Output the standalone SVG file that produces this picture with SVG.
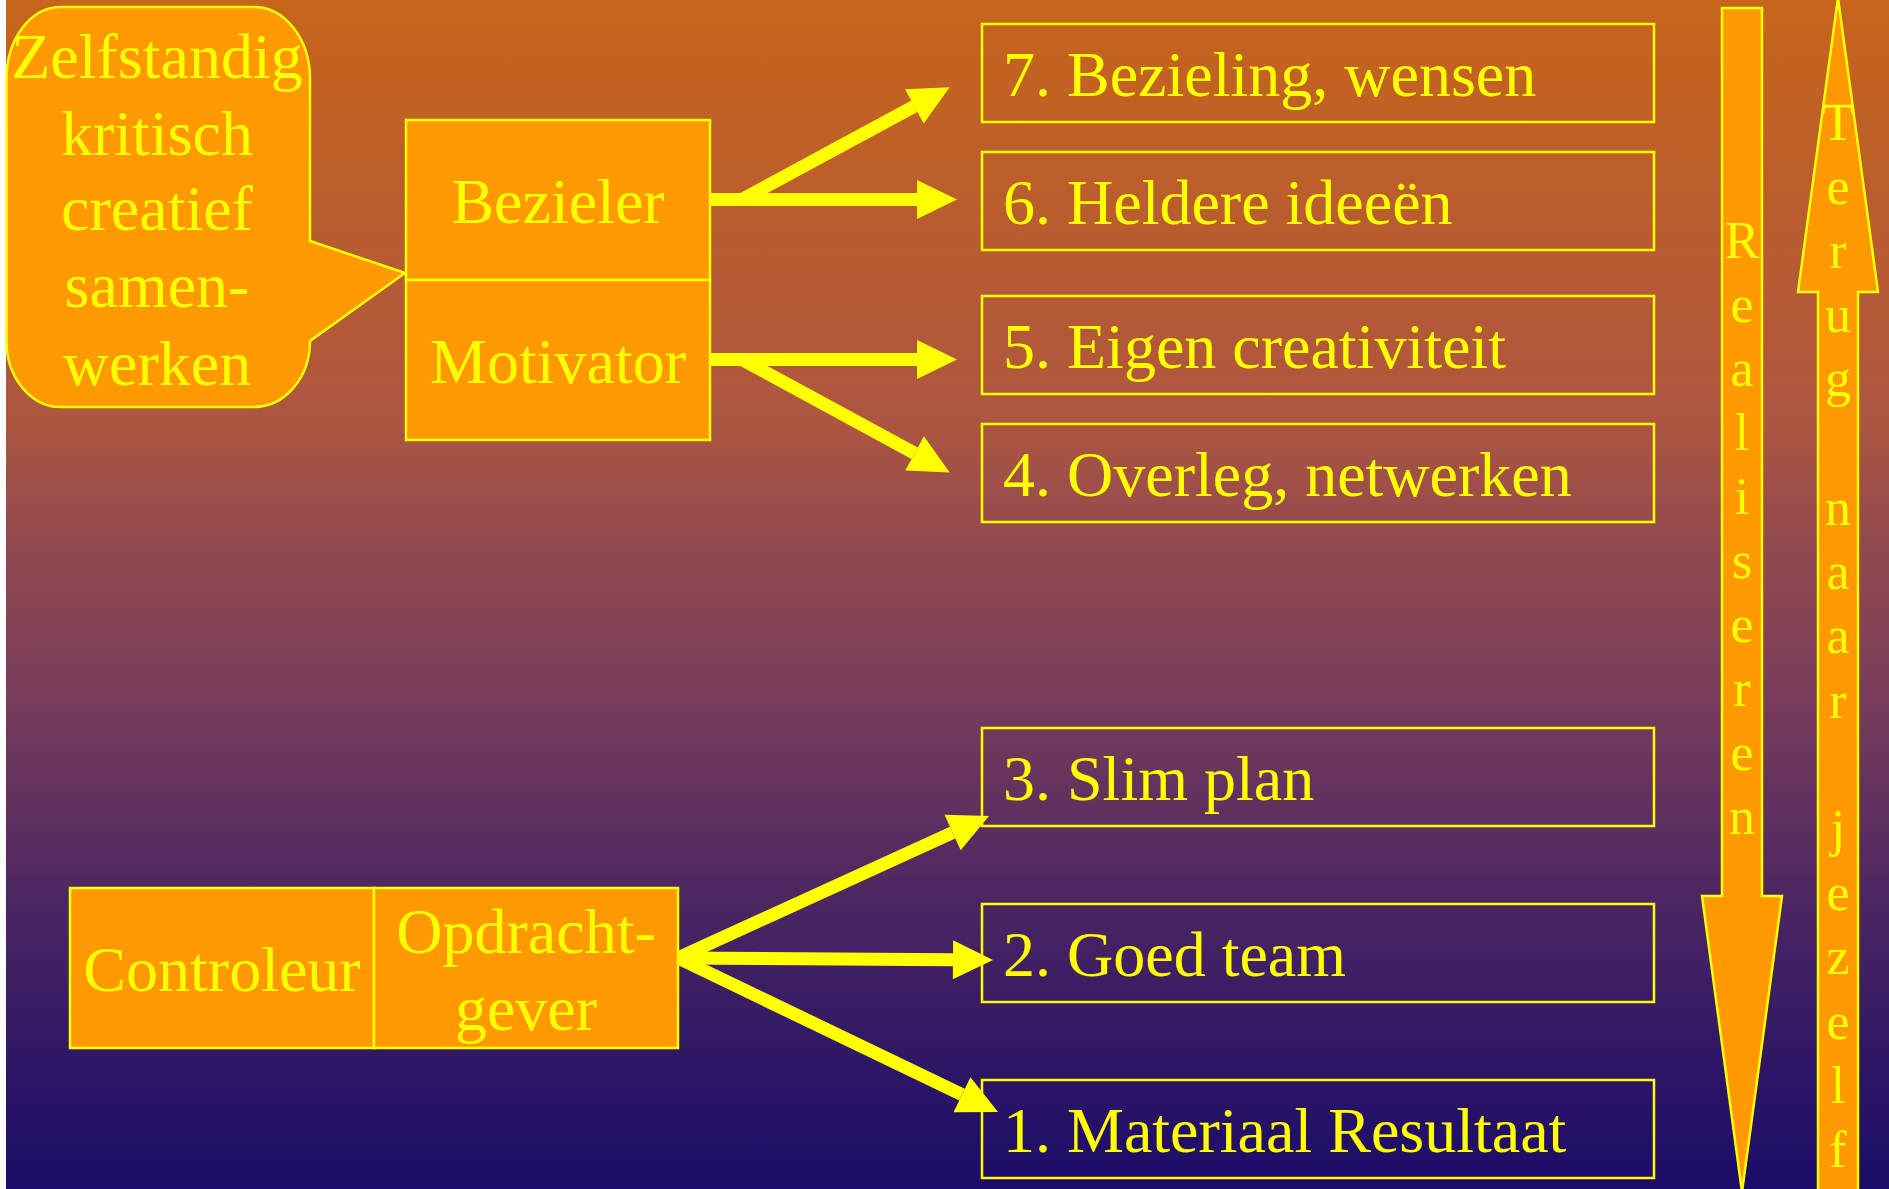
<svg xmlns="http://www.w3.org/2000/svg" width="1889" height="1189" viewBox="0 0 1889 1189">
<defs>
<linearGradient id="bg" x1="0" y1="0" x2="0" y2="1">
<stop offset="0" stop-color="#C7651B"/>
<stop offset="0.35" stop-color="#AE5640"/>
<stop offset="0.47" stop-color="#8F4850"/>
<stop offset="0.59" stop-color="#783C5B"/>
<stop offset="0.75" stop-color="#4E2762"/>
<stop offset="0.9" stop-color="#2D1666"/>
<stop offset="1" stop-color="#1B0C69"/>
</linearGradient>
<marker id="head" markerUnits="userSpaceOnUse" viewBox="0 -21 42 42" refX="0" refY="0" markerWidth="42" markerHeight="42" orient="auto" overflow="visible">
<path d="M0,-19.5 L40,0 L0,19.5 Z" fill="#FFFF00"/>
</marker>
<style>
.shape{fill:#FF9900;stroke:#FFFF00;stroke-width:2.5}
.box{fill:none;stroke:#FFFF00;stroke-width:2.5}
.t{font-family:"Liberation Serif","Times New Roman",serif;font-size:64px;fill:#FFFF00}
.c{text-anchor:middle}
.v{font-family:"Liberation Serif","Times New Roman",serif;font-size:52px;fill:#FFFF00;text-anchor:middle}
.arr{fill:none;stroke:#FFFF00;stroke-width:13;marker-end:url(#head)}
</style>
</defs>
<rect x="0" y="0" width="1889" height="1189" fill="#FFFFFF"/>
<rect x="6" y="0" width="1883" height="1189" fill="url(#bg)"/>

<g id="connectors">
<path class="arr" d="M708,199.5 L917,199.5"/>
<path class="arr" d="M743,199 L914.4,106.3"/>
<path class="arr" d="M708,359.5 L917,359.5"/>
<path class="arr" d="M743,360 L914.6,453.3"/>
<path class="arr" d="M678,958 L952.6,832.6"/>
<path class="arr" d="M678,958 L953,959.8"/>
<path class="arr" d="M678,958 L962,1094.7"/>
</g>

<g id="callout">
<path class="shape" d="M60,7 H254 A56,72 0 0 1 310,79 V241 L405,273 L310,341 A56,66 0 0 1 254,407 H60 A54,66 0 0 1 6.5,341 V79 A54,72 0 0 1 60,7 Z"/>
<text class="t c" x="157" y="78">Zelfstandig</text>
<text class="t c" x="157" y="155">kritisch</text>
<text class="t c" x="157" y="230">creatief</text>
<text class="t c" x="157" y="307">samen-</text>
<text class="t c" x="157" y="385">werken</text>
</g>

<g id="bezieler">
<rect class="shape" x="406" y="120" width="304" height="160"/>
<text class="t c" x="558" y="223">Bezieler</text>
</g>
<g id="motivator">
<rect class="shape" x="406" y="280" width="304" height="160"/>
<text class="t c" x="558" y="383">Motivator</text>
</g>

<g id="controleur">
<rect class="shape" x="70" y="888" width="304" height="160"/>
<text class="t c" x="222" y="991">Controleur</text>
</g>
<g id="opdrachtgever">
<rect class="shape" x="374" y="888" width="304" height="160"/>
<text class="t c" x="526" y="953">Opdracht-</text>
<text class="t c" x="526" y="1030">gever</text>
</g>

<g id="step7"><rect class="box" x="982" y="24" width="672" height="98"/><text class="t" x="1003" y="96">7. Bezieling, wensen</text></g>
<g id="step6"><rect class="box" x="982" y="152" width="672" height="98"/><text class="t" x="1003" y="224">6. Heldere ideeën</text></g>
<g id="step5"><rect class="box" x="982" y="296" width="672" height="98"/><text class="t" x="1003" y="368">5. Eigen creativiteit</text></g>
<g id="step4"><rect class="box" x="982" y="424" width="672" height="98"/><text class="t" x="1003" y="496">4. Overleg, netwerken</text></g>
<g id="step3"><rect class="box" x="982" y="728" width="672" height="98"/><text class="t" x="1003" y="800">3. Slim plan</text></g>
<g id="step2"><rect class="box" x="982" y="904" width="672" height="98"/><text class="t" x="1003" y="976">2. Goed team</text></g>
<g id="step1"><rect class="box" x="982" y="1080" width="672" height="98"/><text class="t" x="1003" y="1152">1. Materiaal Resultaat</text></g>

<g id="realiseren">
<path class="shape" d="M1722,8 H1762 V896 H1782 L1742,1192 L1702,896 H1722 Z"/>
<text class="v"><tspan x="1742" y="258">R</tspan><tspan x="1742" y="322">e</tspan><tspan x="1742" y="386">a</tspan><tspan x="1742" y="450">l</tspan><tspan x="1742" y="514">i</tspan><tspan x="1742" y="578">s</tspan><tspan x="1742" y="642">e</tspan><tspan x="1742" y="706">r</tspan><tspan x="1742" y="770">e</tspan><tspan x="1742" y="834">n</tspan></text>
</g>

<g id="terug">
<path class="shape" d="M1838,-2 L1878,292 H1858 V1195 H1818 V292 H1798 Z"/>
<line x1="1823.5" y1="106" x2="1852.5" y2="106" stroke="#FFFF00" stroke-width="2.5"/>
<text class="v"><tspan x="1838" y="140">T</tspan><tspan x="1838" y="204">e</tspan><tspan x="1838" y="268">r</tspan><tspan x="1838" y="332">u</tspan><tspan x="1838" y="396">g</tspan><tspan x="1838" y="525">n</tspan><tspan x="1838" y="589">a</tspan><tspan x="1838" y="653">a</tspan><tspan x="1838" y="718">r</tspan><tspan x="1838" y="846">j</tspan><tspan x="1838" y="910">e</tspan><tspan x="1838" y="974">z</tspan><tspan x="1838" y="1039">e</tspan><tspan x="1838" y="1103">l</tspan><tspan x="1838" y="1167">f</tspan></text>
</g>
</svg>
